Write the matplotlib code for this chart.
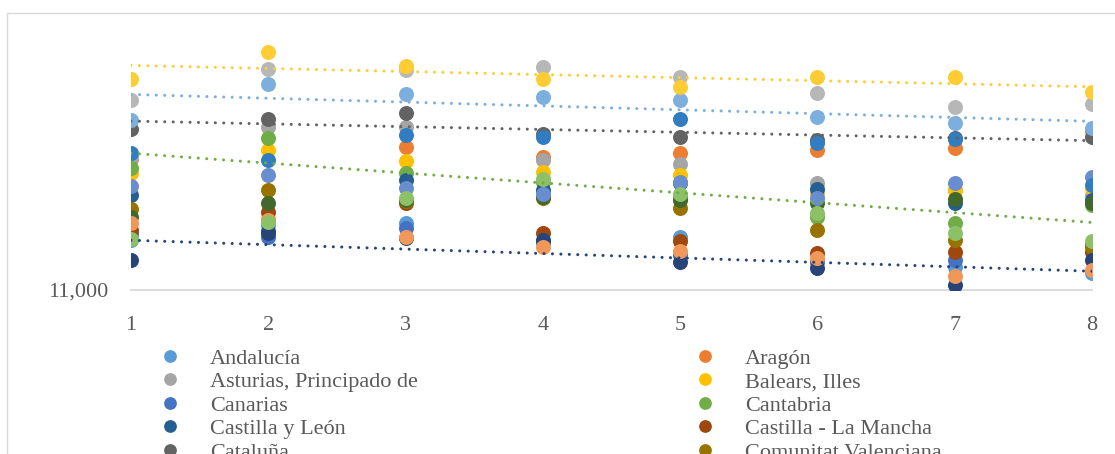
import numpy as np
import matplotlib
matplotlib.use('Agg')
import matplotlib.pyplot as plt
from matplotlib.patches import Rectangle

plt.rcParams['font.family'] = ['Liberation Serif', 'DejaVu Serif']

x = [1, 2, 3, 4, 5, 6, 7, 8]

regiones = ['Andalucía', 'Aragón', 'Asturias, Principado de', 'Balears, Illes',
            'Canarias', 'Cantabria', 'Castilla y León', 'Castilla - La Mancha',
            'Cataluña', 'Comunitat Valenciana', 'Extremadura', 'Galicia',
            'Madrid, Comunidad de', 'Murcia, Región de', 'Navarra, Comunidad Foral de',
            'País Vasco', 'Rioja, La', 'Ceuta', 'Melilla']

andalucia = [11500, 11650, 11670, 11480, 11530, 11300, 11230, 11170]
aragon = [12310, 11710, 12430, 12330, 12370, 12400, 12420, 12590]
asturias = [12320, 12630, 12630, 12300, 12260, 12070, 12000, 11950]
baleares = [12170, 12400, 12290, 12180, 12150, 11960, 12000, 12020]
canarias = [11560, 11530, 11620, 11480, 11350, 11280, 11300, 11450]
cantabria = [12220, 12520, 12170, 12080, 11930, 11730, 11670, 11850]
castilla_leon = [11950, 11590, 12100, 12000, 12070, 12010, 11870, 11900]
castilla_mancha = [11600, 11780, 11870, 11570, 11490, 11370, 11380, 11380]
cataluna = [12610, 12710, 12770, 12560, 12530, 12500, 12520, 12530]
valenciana = [11810, 12000, 11890, 11920, 11820, 11600, 11500, 11430]
extremadura = [11300, 11570, 11520, 11500, 11280, 11220, 11050, 11300]
galicia = [11730, 11870, 11900, 11930, 11900, 11870, 11910, 11870]
madrid = [12700, 13060, 12960, 12930, 12900, 12730, 12670, 12620]
murcia = [11670, 11700, 11530, 11430, 11390, 11320, 11140, 11200]
navarra = [12900, 13210, 13200, 13230, 13130, 12970, 12830, 12860]
pais_vasco = [13110, 13380, 13240, 13110, 13030, 13130, 13130, 12980]
rioja = [12040, 12150, 12020, 11960, 12080, 11920, 12070, 12130]
ceuta = [11510, 11680, 11920, 12110, 11960, 11770, 11570, 11490]
melilla = [12370, 12300, 12550, 12530, 12710, 12470, 12510, 12050]

valores = [andalucia, aragon, asturias, baleares, canarias, cantabria, castilla_leon,
           castilla_mancha, cataluna, valenciana, extremadura, galicia, madrid, murcia,
           navarra, pais_vasco, rioja, ceuta, melilla]

colores = ['#5B9BD5', '#ED7D31', '#A5A5A5', '#FFC000', '#4472C4', '#70AD47',
           '#255E91', '#9E480E', '#636363', '#997300', '#264478', '#43682B',
           '#7CAFDD', '#F1975A', '#B7B7B7', '#FFCD33', '#698ED0', '#8CC168', '#327DC2']

# series con linea de tendencia
con_tendencia = ['País Vasco', 'Madrid, Comunidad de', 'Cataluña', 'Cantabria', 'Extremadura']

fig = plt.figure(figsize=(11.15, 4.54), dpi=100)
ax = fig.add_axes([131/1115, 1 - 290/454, (1092 - 131)/1115, (290 - 20)/454])

handles = []
for nombre, ys, c in zip(regiones, valores, colores):
    h, = ax.plot(x, ys, 'o', color=c, ms=10.8, mew=0, label=nombre, zorder=2)
    handles.append(h)

xs = np.array([1, 8])
for nombre in con_tendencia:
    i = regiones.index(nombre)
    m, b = np.polyfit(x, valores[i], 1)
    ax.plot(xs, m*xs + b, color=colores[i], lw=2.2, ls=(0, (0.01, 2.75)),
            dash_capstyle='round', zorder=3)

ax.set_xlim(1, 8)
ax.set_ylim(11000, 13700)
ax.set_xticks(x)
ax.set_yticks([11000])
ax.set_yticklabels(['11,000'])
for s in ['top', 'right', 'left']:
    ax.spines[s].set_visible(False)
ax.spines['bottom'].set_color('#D9D9D9')
ax.spines['bottom'].set_linewidth(1.3)
ax.spines['bottom'].set_zorder(1)
ax.tick_params(axis='both', length=0, labelsize=16, labelcolor='#595959')
ax.tick_params(axis='x', pad=19)
ax.tick_params(axis='y', pad=16)

# marco del grafico
fig.patches.append(Rectangle((7/1115, -0.1), 1.2, 1 - 13/454 + 0.1, fill=False,
                             ec='#D9D9D9', lw=1, transform=fig.transFigure))

fs = 16
opts = dict(loc='upper left', frameon=False, fontsize=fs, handlelength=1.0,
            handletextpad=1.3, labelspacing=0.135, borderpad=0, borderaxespad=0,
            markerscale=0.85, labelcolor='#595959')
fig.legend(handles[0::2], regiones[0::2], bbox_to_anchor=(159/1115, 1 - 348/454), **opts)
fig.legend(handles[1::2], regiones[1::2], bbox_to_anchor=(694/1115, 1 - 348/454), **opts)

fig.savefig('out.png', dpi=100)
